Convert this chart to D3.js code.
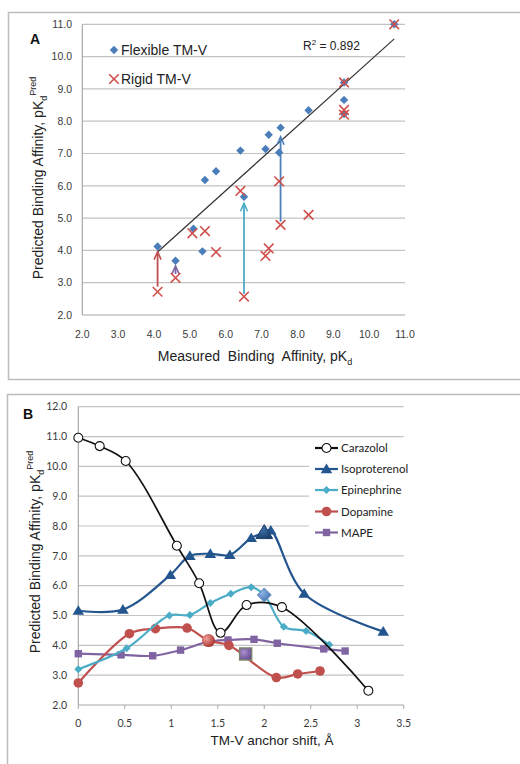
<!DOCTYPE html>
<html>
<head>
<meta charset="utf-8">
<script src="https://cdn.jsdelivr.net/npm/d3@7"></script>
<style>
  body { margin: 0; background: #fff; }
  svg { display: block; }
  .arial { font-family: "Liberation Sans", Arial, sans-serif; }
  .cal { font-family: Lato, "Open Sans", sans-serif; }
</style>
</head>
<body>
<div id="chart"></div>
<script>
// ---- Panel A: measured vs predicted pKd ----
var flexMeasured  = [4.1, 4.6, 5.1, 5.35, 5.42, 5.73, 6.41, 6.51, 7.11, 7.2, 7.49, 7.53, 8.31, 9.3, 9.3, 9.3, 10.7];
var flexPred      = [4.12, 3.68, 4.67, 3.97, 6.18, 6.45, 7.09, 5.66, 7.14, 7.58, 7.03, 7.8, 8.34, 8.66, 9.2, 8.22, 11.0];
var rigidMeasured = [4.1, 4.6, 5.07, 5.42, 5.73, 6.41, 6.51, 7.11, 7.2, 7.49, 7.53, 8.31, 9.3, 9.3, 9.3, 10.7];
var rigidPred     = [2.72, 3.15, 4.53, 4.6, 3.95, 5.84, 2.57, 3.83, 4.06, 6.14, 4.79, 5.1, 9.2, 8.35, 8.2, 11.0];
var fitRange      = [4.1, 10.7];
var fitSlope      = 1.0, fitIntercept = -0.15, fitR2 = "0.892";
var arrowX        = [4.1, 4.6, 6.51, 7.53];
var arrowFrom     = [2.88, 3.27, 2.65, 4.89];
var arrowTo       = [3.96, 3.52, 5.46, 7.52];
var axisTicksA    = [2, 3, 4, 5, 6, 7, 8, 9, 10, 11];

// ---- Panel B: predicted pKd vs TM-V anchor shift ----
var seriesNames   = ["Carazolol", "Isoproterenol", "Epinephrine", "Dopamine", "MAPE"];
var shiftCarazolol = [0, 0.23, 0.51, 1.06, 1.3, 1.53, 1.81, 2.19, 3.12];
var predCarazolol  = [10.96, 10.68, 10.18, 7.34, 6.08, 4.42, 5.35, 5.28, 2.48];
var shiftIso       = [0, 0.48, 0.99, 1.2, 1.42, 1.63, 1.86, 2.0, 2.07, 2.43, 3.28];
var predIso        = [5.16, 5.2, 6.36, 7.0, 7.07, 7.03, 7.6, 7.78, 7.85, 5.73, 4.46];
var shiftEpi       = [0, 0.52, 0.98, 1.2, 1.42, 1.64, 1.86, 2.0, 2.21, 2.45, 2.7];
var predEpi        = [3.2, 3.9, 5.0, 5.02, 5.42, 5.73, 5.95, 5.69, 4.62, 4.48, 4.02];
var shiftDopa      = [0, 0.55, 0.83, 1.17, 1.4, 1.62, 2.13, 2.36, 2.6];
var predDopa       = [2.74, 4.39, 4.56, 4.58, 4.16, 4.0, 2.92, 3.04, 3.14];
var shiftMape      = [0, 0.46, 0.8, 1.1, 1.4, 1.61, 1.89, 2.14, 2.64, 2.87];
var predMape       = [3.72, 3.68, 3.65, 3.84, 4.12, 4.18, 4.2, 4.07, 3.88, 3.81];
var hlSeries       = ["Dopamine", "MAPE", "Isoproterenol", "Epinephrine"];
var hlShift        = [1.4, 1.8, 2.0, 2.0];
var hlPred         = [4.16, 3.71, 7.78, 5.69];
var shiftTicks     = [0, 0.5, 1, 1.5, 2, 2.5, 3, 3.5];
var predTicksB     = [2, 3, 4, 5, 6, 7, 8, 9, 10, 11, 12];

var W = 520, H = 764;
var svg = d3.select("#chart").append("svg").attr("width", W).attr("height", H);
svg.append("rect").attr("width", W).attr("height", H).attr("fill", "#fff");

var defs = svg.append("defs");
function radial(id, light, dark) {
    var g = defs.append("radialGradient").attr("id", id).attr("cx", "35%").attr("cy", "35%").attr("r", "70%");
    g.append("stop").attr("offset", "0%").attr("stop-color", light);
    g.append("stop").attr("offset", "100%").attr("stop-color", dark);
}
radial("gDopa", "#f4a09c", "#a5302c");
radial("gEpi", "#8fb5e6", "#3f6fae");
radial("gMape", "#a98fd0", "#6a4c92");
radial("gIso", "#3f71a8", "#1b3f6a");

var gridCol = "#c3c3c3", axisCol = "#a8a8a8", tickCol = "#3a3a3a";

// panel frames
svg.append("rect").attr("x", 8.5).attr("y", 12.5).attr("width", 600).attr("height", 367)
    .attr("fill", "none").attr("stroke", "#bdbdbd").attr("stroke-width", 1.5);
svg.append("rect").attr("x", 7.5).attr("y", 394.5).attr("width", 600).attr("height", 400)
    .attr("fill", "none").attr("stroke", "#bdbdbd").attr("stroke-width", 1.5);

// ================= Panel A =================
var xA = d3.scaleLinear().domain([2, 11]).range([82.3, 405]);
var yA = d3.scaleLinear().domain([2, 11]).range([315, 24.3]);
var gA = svg.append("g");

gA.selectAll("line.grid").data(axisTicksA.slice(1)).enter().append("line")
    .attr("x1", xA(2)).attr("x2", xA(11)).attr("y1", d => yA(d)).attr("y2", d => yA(d))
    .attr("stroke", gridCol).attr("stroke-width", 1.2);
gA.append("line").attr("x1", xA(2)).attr("x2", xA(11)).attr("y1", yA(2)).attr("y2", yA(2))
    .attr("stroke", axisCol).attr("stroke-width", 1.2);
gA.append("line").attr("x1", xA(2)).attr("x2", xA(2)).attr("y1", yA(2)).attr("y2", yA(11))
    .attr("stroke", axisCol).attr("stroke-width", 1.2);

gA.selectAll("text.yt").data(axisTicksA).enter().append("text").attr("class", "arial")
    .attr("x", 72).attr("y", d => yA(d) + 3.7).attr("text-anchor", "end")
    .attr("font-size", 10.5).attr("fill", tickCol).text(d => d.toFixed(1));
gA.selectAll("text.xt").data(axisTicksA).enter().append("text").attr("class", "arial")
    .attr("x", d => xA(d)).attr("y", 338).attr("text-anchor", "middle")
    .attr("font-size", 10.5).attr("fill", tickCol).text(d => d.toFixed(1));

// axis titles
var xtA = gA.append("text").attr("class", "arial").attr("x", 255).attr("y", 361)
    .attr("text-anchor", "middle").attr("font-size", 14).attr("fill", "#222")
    .style("white-space", "pre");
xtA.append("tspan").text("Measured  Binding  Affinity, pK");
xtA.append("tspan").attr("dy", 4).attr("font-size", 9).text("d");

var ytA = gA.append("text").attr("class", "arial")
    .attr("transform", "translate(43,178) rotate(-90)")
    .attr("text-anchor", "middle").attr("font-size", 14).attr("fill", "#222");
ytA.append("tspan").text("Predicted Binding Affinity, pK");
ytA.append("tspan").attr("dy", 4).attr("font-size", 9).text("d");
ytA.append("tspan").attr("dy", -11).attr("font-size", 9).text("Pred");

gA.append("text").attr("class", "arial").attr("x", 30).attr("y", 44)
    .attr("font-size", 14).attr("font-weight", "bold").attr("fill", "#111").text("A");

// regression line
var fitLine = d3.line().x(d => xA(d)).y(d => yA(fitSlope * d + fitIntercept));
gA.append("path").attr("d", fitLine(fitRange)).attr("fill", "none")
    .attr("stroke", "#333").attr("stroke-width", 1.2);
var r2 = gA.append("text").attr("class", "arial").attr("x", 303).attr("y", 50)
    .attr("font-size", 12).attr("fill", "#222");
r2.append("tspan").text("R");
r2.append("tspan").attr("dy", -5).attr("font-size", 8).text("2");
r2.append("tspan").attr("dy", 5).text(" = " + fitR2);

// arrows
var arrowCols = ["#c0504d", "#8064a2", "#4bacc6", "#4f81bd"];
arrowX.forEach(function(x, i) {
    var px = xA(x), y0 = yA(arrowFrom[i]), y1 = yA(arrowTo[i]);
    gA.append("line").attr("x1", px).attr("x2", px).attr("y1", y0).attr("y2", y1 + 1)
        .attr("stroke", arrowCols[i]).attr("stroke-width", 1.8);
    gA.append("path").attr("d", "M" + (px - 3.5) + "," + (y1 + 8) + "L" + px + "," + y1 + "L" + (px + 3.5) + "," + (y1 + 8))
        .attr("fill", "none").attr("stroke", arrowCols[i]).attr("stroke-width", 1.6);
});

// markers
function diamond(s) { return "M0," + (-s) + "L" + s + ",0L0," + s + "L" + (-s) + ",0Z"; }
function cross(s) { return "M" + (-s) + "," + (-s) + "L" + s + "," + s + "M" + (-s) + "," + s + "L" + s + "," + (-s); }

gA.selectAll("path.flex").data(flexMeasured).enter().append("path")
    .attr("transform", (d, i) => "translate(" + xA(d) + "," + yA(flexPred[i]) + ")")
    .attr("d", diamond(4.2)).attr("fill", "#4a7ebb");
gA.selectAll("path.rigid").data(rigidMeasured).enter().append("path")
    .attr("transform", (d, i) => "translate(" + xA(d) + "," + yA(rigidPred[i]) + ")")
    .attr("d", cross(4.8)).attr("fill", "none").attr("stroke", "#d0504d").attr("stroke-width", 1.6);

// legend A
gA.append("path").attr("transform", "translate(114,50)").attr("d", diamond(4.2)).attr("fill", "#4a7ebb");
gA.append("text").attr("class", "arial").attr("x", 121).attr("y", 55).attr("font-size", 14)
    .attr("fill", "#222").text("Flexible TM-V");
gA.append("path").attr("transform", "translate(114,79)").attr("d", cross(4.8))
    .attr("stroke", "#d0504d").attr("stroke-width", 1.6);
gA.append("text").attr("class", "arial").attr("x", 121).attr("y", 84).attr("font-size", 14)
    .attr("fill", "#222").text("Rigid TM-V");

// ================= Panel B =================
var xB = d3.scaleLinear().domain([0, 3.5]).range([78.3, 403.7]);
var yB = d3.scaleLinear().domain([2, 12]).range([705, 406.7]);
var gB = svg.append("g");

gB.selectAll("line.grid").data(predTicksB.slice(1)).enter().append("line")
    .attr("x1", xB(0)).attr("x2", xB(3.5)).attr("y1", d => yB(d)).attr("y2", d => yB(d))
    .attr("stroke", gridCol).attr("stroke-width", 1.2);
gB.append("line").attr("x1", xB(0)).attr("x2", xB(3.5)).attr("y1", yB(2)).attr("y2", yB(2))
    .attr("stroke", axisCol).attr("stroke-width", 1.2);
gB.append("line").attr("x1", xB(0)).attr("x2", xB(0)).attr("y1", yB(2)).attr("y2", yB(12))
    .attr("stroke", axisCol).attr("stroke-width", 1.2);
gB.selectAll("line.tk").data(shiftTicks).enter().append("line")
    .attr("x1", d => xB(d)).attr("x2", d => xB(d)).attr("y1", yB(2)).attr("y2", yB(2) + 4)
    .attr("stroke", axisCol).attr("stroke-width", 1);

gB.selectAll("text.yt").data(predTicksB).enter().append("text").attr("class", "cal")
    .attr("x", 67).attr("y", d => yB(d) + 3.7).attr("text-anchor", "end")
    .attr("font-size", 10.5).attr("fill", tickCol).text(d => d.toFixed(1));
gB.selectAll("text.xt").data(shiftTicks).enter().append("text").attr("class", "cal")
    .attr("x", d => xB(d)).attr("y", 727).attr("text-anchor", "middle")
    .attr("font-size", 10.5).attr("fill", tickCol).text(d => d);

gB.append("text").attr("class", "arial").attr("x", 272).attr("y", 745)
    .attr("text-anchor", "middle").attr("font-size", 13.5).attr("fill", "#222").text("TM-V anchor shift, Å");
var ytB = gB.append("text").attr("class", "arial")
    .attr("transform", "translate(40,552) rotate(-90)")
    .attr("text-anchor", "middle").attr("font-size", 14).attr("fill", "#222");
ytB.append("tspan").text("Predicted Binding Affinity, pK");
ytB.append("tspan").attr("dy", 4).attr("font-size", 9).text("d");
ytB.append("tspan").attr("dy", -11).attr("font-size", 9).text("Pred");

gB.append("text").attr("class", "arial").attr("x", 23).attr("y", 419)
    .attr("font-size", 14).attr("font-weight", "bold").attr("fill", "#111").text("B");

// legend background hides gridlines behind it
gB.append("rect").attr("x", 309).attr("y", 441).attr("width", 110).attr("height", 106).attr("fill", "#fff");

var shifts = [shiftCarazolol, shiftIso, shiftEpi, shiftDopa, shiftMape];
var preds  = [predCarazolol, predIso, predEpi, predDopa, predMape];
var colors = ["#111", "#23558e", "#4bacc6", "#c0504d", "#8064a2"];

function marker(g, k, big) {
    // k: series index; draws a marker centred at 0,0
    if (k === 0) {
        g.append("circle").attr("r", 4.5).attr("fill", "#fff").attr("stroke", "#111").attr("stroke-width", 1.1);
    } else if (k === 1) {
        var s = big ? 8 : 5.5;
        g.append("path").attr("d", "M0," + (-s) + "L" + (s * 1.05) + "," + (s * 0.75) + "L" + (-s * 1.05) + "," + (s * 0.75) + "Z")
            .attr("fill", big ? "url(#gIso)" : colors[1]).attr("stroke", big ? "#1b3f6a" : "none");
    } else if (k === 2) {
        g.append("path").attr("d", diamond(big ? 7 : 4)).attr("fill", big ? "url(#gEpi)" : colors[2])
            .attr("stroke", big ? "#6d8fbf" : "none");
    } else if (k === 3) {
        g.append("circle").attr("r", big ? 6.5 : 4.8).attr("fill", big ? "url(#gDopa)" : colors[3]);
    } else {
        var q = big ? 6 : 3.7;
        g.append("rect").attr("x", -q).attr("y", -q).attr("width", 2 * q).attr("height", 2 * q)
            .attr("fill", big ? "url(#gMape)" : colors[4])
            .attr("stroke", big ? "#7a8570" : "none").attr("stroke-width", big ? 1.5 : 0);
    }
}

var line = d3.line().x(d => xB(d[0])).y(d => yB(d[1])).curve(d3.curveCatmullRom.alpha(0.5));

// draw lines + markers; Carazolol on top of the others like in the original
var order = [4, 3, 2, 1, 0];
order.forEach(function(k) {
    var pts = shifts[k].map((x, i) => [x, preds[k][i]]);
    gB.append("path").attr("d", line(pts)).attr("fill", "none")
        .attr("stroke", colors[k]).attr("stroke-width", k === 0 ? 1.7 : 2.2);
    pts.forEach(function(p) {
        marker(gB.append("g").attr("transform", "translate(" + xB(p[0]) + "," + yB(p[1]) + ")"), k, false);
    });
});

// highlighted points
hlSeries.forEach(function(name, i) {
    var k = seriesNames.indexOf(name);
    marker(gB.append("g").attr("transform", "translate(" + xB(hlShift[i]) + "," + yB(hlPred[i]) + ")"), k, true);
});

// legend B
var legY = [448, 469, 490, 511.5, 532.5];
seriesNames.forEach(function(name, k) {
    gB.append("line").attr("x1", 315).attr("x2", 338).attr("y1", legY[k]).attr("y2", legY[k])
        .attr("stroke", colors[k]).attr("stroke-width", 2.2);
    marker(gB.append("g").attr("transform", "translate(326.5," + legY[k] + ")"), k, false);
    gB.append("text").attr("class", "cal").attr("x", 341).attr("y", legY[k] + 4)
        .attr("font-size", 11.5).attr("fill", "#222").text(name);
});
</script>
</body>
</html>
